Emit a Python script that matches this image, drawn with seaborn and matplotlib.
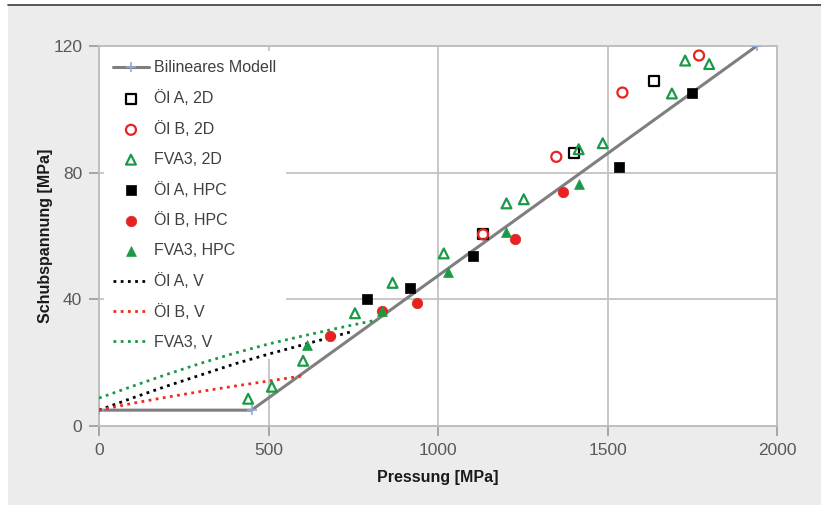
import matplotlib
matplotlib.use("Agg")
import matplotlib.pyplot as plt
import seaborn as sns
import pandas as pd
from matplotlib.patches import Rectangle
from matplotlib.lines import Line2D

# ---------------- data ----------------
model_x = [0, 450, 1940]
model_y = [5, 5, 120]

oelA_2d_x = [1133, 1400, 1638]
oelA_2d_y = [60.5, 86.1, 108.8]

oelB_2d_x = [1133, 1349, 1544, 1770]
oelB_2d_y = [60.5, 85.0, 105.3, 117.0]

fva3_2d_x = [440, 510, 602, 755, 866, 1017, 1202, 1253, 1415, 1486, 1690, 1729, 1800]
fva3_2d_y = [8.6, 12.4, 20.6, 35.6, 45.2, 54.5, 70.3, 71.6, 87.4, 89.3, 105.0, 115.4, 114.3]

oelA_hpc_x = [792, 918, 1102, 1535, 1750]
oelA_hpc_y = [40.1, 43.6, 53.8, 81.7, 105.3]

oelB_hpc_x = [681, 836, 938, 1226, 1369]
oelB_hpc_y = [28.5, 36.3, 38.9, 59.1, 74.0]

fva3_hpc_x = [613, 836, 1029, 1202, 1415]
fva3_hpc_y = [25.5, 36.3, 48.7, 61.2, 76.3]

oelA_v_x = [0, 100, 200, 300, 400, 500, 600, 742]
oelA_v_y = [5.0, 8.9, 12.6, 16.1, 19.6, 22.7, 25.6, 29.7]

oelB_v_x = [0, 100, 200, 300, 400, 500, 604]
oelB_v_y = [5.0, 7.2, 9.1, 10.9, 12.6, 14.2, 15.9]

fva3_v_x = [0, 100, 200, 300, 400, 500, 600, 700, 820]
fva3_v_y = [8.8, 12.6, 16.3, 19.8, 23.0, 25.9, 28.4, 30.8, 33.5]

x_ticks = [0, 500, 1000, 1500, 2000]
y_ticks = [0, 40, 80, 120]
x_label = "Pressung [MPa]"
y_label = "Schubspannung [MPa]"

# ---------------- style ----------------
sns.set_theme(style="white")
plt.rcParams["font.family"] = ["Liberation Sans Narrow", "Liberation Sans", "DejaVu Sans"]

RED = "#e52421"
GREEN = "#1a9a48"
BLACK = "#000000"
GRID = "#c3c3c3"
TICKC = "#595959"

fig = plt.figure(figsize=(8.21, 5.05), dpi=100, facecolor="white")
bg = Rectangle((8 / 821, 0), 1 - 8 / 821, 1 - 5 / 505, transform=fig.transFigure,
               facecolor="#ececec", edgecolor="none")
bg.set_zorder(-10)
fig.patches.append(bg)
topline = Line2D([8 / 821, 1], [1 - 5 / 505, 1 - 5 / 505], transform=fig.transFigure,
                 color="#3a3a3a", lw=1.2)
topline.set_zorder(-5)
fig.lines.append(topline)

ax = fig.add_axes([99 / 821, 1 - 426 / 505, (777 - 99) / 821, (426 - 46) / 505])
ax.set_facecolor("white")

def df(x, y):
    return pd.DataFrame({"x": x, "y": y})

# Bilinear model
sns.lineplot(data=df(model_x, model_y), x="x", y="y", ax=ax, color="#7f7f7f", lw=2.2,
             marker="+", markersize=7, markeredgecolor="#8fa9db", markeredgewidth=1.2,
             label="Bilineares Modell", sort=False, estimator=None, zorder=3)

# scatter series
sq = 42
ci = 52
tr = 50
sns.scatterplot(data=df(oelA_2d_x, oelA_2d_y), x="x", y="y", ax=ax, marker="s", s=sq,
                facecolor="white", edgecolor=BLACK, linewidth=1.6, label="Öl A, 2D", zorder=4)
sns.scatterplot(data=df(oelB_2d_x, oelB_2d_y), x="x", y="y", ax=ax, marker="o", s=ci,
                facecolor="none", edgecolor=RED, linewidth=1.6, label="Öl B, 2D", zorder=5)
sns.scatterplot(data=df(fva3_2d_x, fva3_2d_y), x="x", y="y", ax=ax, marker="^", s=tr,
                facecolor="none", edgecolor=GREEN, linewidth=1.6, label="FVA3, 2D", zorder=5)
sns.scatterplot(data=df(oelA_hpc_x, oelA_hpc_y), x="x", y="y", ax=ax, marker="s", s=sq,
                color=BLACK, edgecolor=BLACK, linewidth=0.5, label="Öl A, HPC", zorder=5)
sns.scatterplot(data=df(oelB_hpc_x, oelB_hpc_y), x="x", y="y", ax=ax, marker="o", s=ci + 5,
                color=RED, edgecolor=RED, linewidth=0.5, label="Öl B, HPC", zorder=5)
sns.scatterplot(data=df(fva3_hpc_x, fva3_hpc_y), x="x", y="y", ax=ax, marker="^", s=tr,
                color=GREEN, edgecolor=GREEN, linewidth=0.5, label="FVA3, HPC", zorder=6)

# dotted V curves
dots = (0, (1, 1.6))
sns.lineplot(data=df(oelA_v_x, oelA_v_y), x="x", y="y", ax=ax, color=BLACK, lw=2.0,
             linestyle=dots, label="Öl A, V", sort=False, estimator=None, zorder=3)
sns.lineplot(data=df(oelB_v_x, oelB_v_y), x="x", y="y", ax=ax, color="#f02a1e", lw=2.0,
             linestyle=dots, label="Öl B, V", sort=False, estimator=None, zorder=3)
sns.lineplot(data=df(fva3_v_x, fva3_v_y), x="x", y="y", ax=ax, color=GREEN, lw=2.0,
             linestyle=dots, label="FVA3, V", sort=False, estimator=None, zorder=3)

# axes
ax.set_xlim(0, 2000)
ax.set_ylim(0, 120)
ax.set_xticks(x_ticks)
ax.set_yticks(y_ticks)
ax.grid(True, color=GRID, lw=1.3)
ax.set_axisbelow(True)
for sp in ax.spines.values():
    sp.set_color("#bdbdbd")
    sp.set_linewidth(1.3)
ax.tick_params(axis="both", direction="out", length=7, width=1.2, color="#9a9a9a",
               labelcolor=TICKC, labelsize=12.5, pad=5, bottom=True, left=True)
ax.set_xlabel(x_label, fontsize=11.5, color="#1a1a1a", fontweight="bold", labelpad=9)
ax.set_ylabel(y_label, fontsize=11.5, color="#1a1a1a", fontweight="bold", labelpad=0)

handles, labels = ax.get_legend_handles_labels()
leg = ax.legend(handles, labels, loc="upper left", bbox_to_anchor=(0.0, 1.0),
                frameon=True, facecolor="white", edgecolor="none", framealpha=1,
                fontsize=11.5, labelspacing=0.93, handlelength=2.2, handletextpad=0.35,
                borderpad=0.6, borderaxespad=0.3)
leg.set_zorder(2.5)
for t in leg.get_texts():
    t.set_color("#404040")

fig.savefig("out.png", dpi=100, facecolor=fig.get_facecolor())
